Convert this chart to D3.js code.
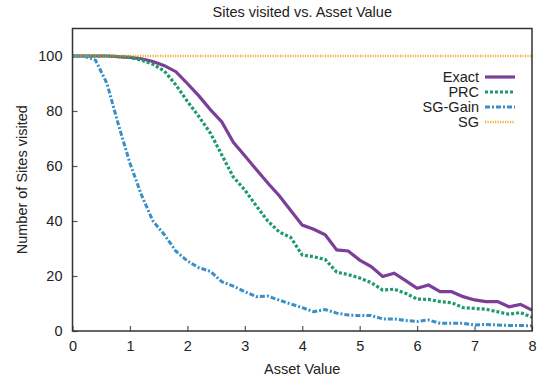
<!DOCTYPE html>
<html>
<head>
<meta charset="utf-8">
<script src="https://cdn.jsdelivr.net/npm/d3@7"></script>
<style>
  html, body { margin: 0; padding: 0; background: #fff; }
  svg { display: block; font-family: "Liberation Sans", Arial, sans-serif; }
</style>
</head>
<body>
<svg id="chart" width="546" height="381"></svg>
<script>
// Asset values sampled every 0.2
const assetValues = d3.range(0, 8.0001, 0.2).map(v => +v.toFixed(1));

const exactSites = [100, 100, 100, 100, 99.8, 99.5, 99, 98, 96.5, 94.3,
  90, 85.5, 80.5, 76, 68.6, 63.7, 58.7, 53.8, 49.2, 43.8,
  38.5, 37, 35, 29.5, 29.1, 25.8, 23.4, 19.8, 21, 18.3,
  15.5, 16.7, 14.3, 14.3, 12.5, 11.3, 10.7, 10.7, 8.8, 9.7, 7.6];

const prcSites = [100, 100, 100, 100, 99.8, 99.5, 98.5, 97, 94.5, 89.5,
  83.5, 78, 72, 64, 56, 51.3, 45.5, 40, 36, 34,
  27.6, 27, 26, 21.4, 20.5, 19.3, 17.6, 14.9, 15.2, 13.7,
  11.6, 11.5, 10.7, 10.3, 8.5, 8.2, 7.9, 7.0, 6.1, 6.7, 5.0];

const sgGainSites = [100, 100, 98.5, 90, 75, 61, 49.5, 40, 35, 29,
  25.5, 23, 21.7, 17.9, 16.3, 14.3, 12.5, 12.7, 11.2, 9.8,
  8.5, 7.0, 7.8, 6.5, 5.8, 5.6, 5.6, 4.4, 4.4, 3.8,
  3.5, 4.0, 2.8, 2.8, 2.8, 2.2, 2.4, 2.2, 2.0, 2.0, 1.9];

const sgSites = assetValues.map(() => 100);

const xTicks = [0, 1, 2, 3, 4, 5, 6, 7, 8];
const yTicks = [0, 20, 40, 60, 80, 100];

const seriesNames = ["Exact", "PRC", "SG-Gain", "SG"];
const seriesValues = [exactSites, prcSites, sgGainSites, sgSites];

const styles = {
  "Exact":   { color: "#7b3f99", width: 3.2, dash: null, opacity: 1 },
  "PRC":     { color: "#1b9a6e", width: 3.2, dash: "3,2", opacity: 1 },
  "SG-Gain": { color: "#3a8fc8", width: 3, dash: "5,2,2,2", opacity: 1 },
  "SG":      { color: "#e69f00", width: 2.6, dash: "1.2,1.3", opacity: 0.8 }
};

const svg = d3.select("#chart");
const margin = { left: 72.5, right: 14, top: 28.5, bottom: 50 };
const W = 546, H = 381;

const x = d3.scaleLinear().domain([0, 8]).range([margin.left, W - margin.right]);
const y = d3.scaleLinear().domain([0, 110]).range([H - margin.bottom, margin.top]);

// Title
svg.append("text")
  .attr("x", (x(0) + x(8)) / 2).attr("y", 17)
  .attr("text-anchor", "middle")
  .attr("font-size", 14.5).attr("fill", "#222")
  .text("Sites visited vs. Asset Value");

// Axes with inward ticks
const xAxis = d3.axisBottom(x).tickValues(xTicks).tickFormat(d3.format("d"))
  .tickSizeInner(-5).tickSizeOuter(0).tickPadding(10);
const yAxis = d3.axisLeft(y).tickValues(yTicks).tickFormat(d3.format("d"))
  .tickSizeInner(-5).tickSizeOuter(0).tickPadding(10);

const gx = svg.append("g").attr("transform", `translate(0,${y(0)})`).call(xAxis);
const gy = svg.append("g").attr("transform", `translate(${x(0)},0)`).call(yAxis);
[gx, gy].forEach(g => {
  g.select(".domain").remove();
  g.selectAll(".tick line").attr("stroke", "#555").attr("stroke-width", 1.2);
  g.selectAll(".tick text").attr("font-size", 14.5).attr("fill", "#222")
    .attr("font-family", "'Liberation Sans', Arial, sans-serif");
});

// Axis labels
svg.append("text")
  .attr("x", (x(0) + x(8)) / 2).attr("y", 374)
  .attr("text-anchor", "middle").attr("font-size", 14.5).attr("fill", "#222")
  .text("Asset Value");
svg.append("text")
  .attr("transform", `translate(27,${(y(0) + y(110)) / 2}) rotate(-90)`)
  .attr("text-anchor", "middle").attr("font-size", 14.5).attr("fill", "#222")
  .text("Number of Sites visited");

// Series lines
const line = d3.line().x((d, i) => x(assetValues[i])).y(d => y(d));
seriesNames.forEach((name, k) => {
  const s = styles[name];
  svg.append("path")
    .datum(seriesValues[k])
    .attr("d", line)
    .attr("fill", "none")
    .attr("stroke", s.color)
    .attr("stroke-width", s.width)
    .attr("stroke-dasharray", s.dash)
    .attr("stroke-opacity", s.opacity)
    .attr("stroke-linejoin", "miter");
});

// Legend
const legend = svg.append("g");
seriesNames.forEach((name, k) => {
  const s = styles[name];
  const ly = 77 + k * 15;
  legend.append("text")
    .attr("x", 479).attr("y", ly + 5)
    .attr("text-anchor", "end").attr("font-size", 14.5).attr("fill", "#222")
    .text(name);
  legend.append("line")
    .attr("x1", 485).attr("x2", 515).attr("y1", ly).attr("y2", ly)
    .attr("stroke", s.color).attr("stroke-width", s.width)
    .attr("stroke-dasharray", s.dash).attr("stroke-opacity", s.opacity);
});

// Plot border
svg.append("rect")
  .attr("x", x(0)).attr("y", y(110))
  .attr("width", x(8) - x(0)).attr("height", y(0) - y(110))
  .attr("fill", "none").attr("stroke", "#333").attr("stroke-width", 1.5);
</script>
</body>
</html>
